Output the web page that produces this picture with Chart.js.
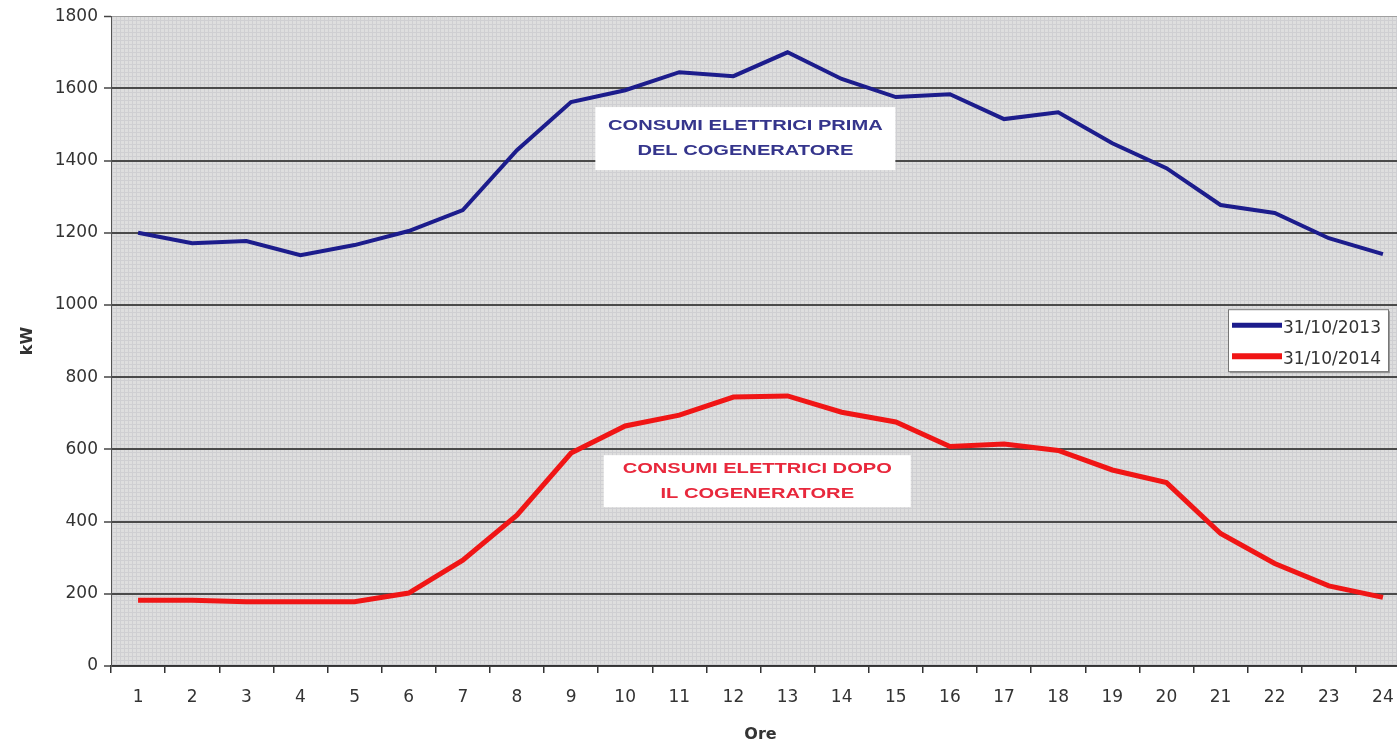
<!DOCTYPE html>
<html lang="it">
<head>
<meta charset="utf-8">
<title>Consumi elettrici</title>
<script src="https://cdn.jsdelivr.net/npm/chart.js@4.4.1/dist/chart.umd.min.js"></script>
<style>
  html, body { margin: 0; padding: 0; background: #fff; overflow: hidden; }
  #wrap { position: relative; width: 1424px; height: 744px; }
</style>
</head>
<body>
<div id="wrap"><canvas id="consumiChart" width="1424" height="744"></canvas></div>
<script>
// -------- Data --------
const hours = ['1', '2', '3', '4', '5', '6', '7', '8', '9', '10', '11', '12',
               '13', '14', '15', '16', '17', '18', '19', '20', '21', '22', '23', '24'];
const kw2013 = [1200, 1171, 1177, 1138, 1166, 1205, 1263, 1429, 1562, 1595, 1645, 1634,
                1700, 1626, 1576, 1584, 1515, 1534, 1448, 1379, 1277, 1255, 1185, 1141];
const kw2014 = [182, 182, 178, 178, 178, 202, 293, 418, 590, 665, 695, 745,
                748, 703, 676, 608, 615, 597, 543, 508, 367, 284, 222, 190];
const kwTicks = [0, 200, 400, 600, 800, 1000, 1200, 1400, 1600, 1800];
const seriesLabels = ['31/10/2013', '31/10/2014'];
const noteLines = [
    ['CONSUMI ELETTRICI PRIMA', 'DEL COGENERATORE'],
    ['CONSUMI ELETTRICI DOPO', 'IL COGENERATORE']
];

const FONT = 'DejaVu Sans';
const BLUE = '#1c1c8c';
const RED = '#f01515';

// -------- Plot background (graph paper look) --------
const plotBackground = {
    id: 'plotBackground',
    beforeDraw(chart) {
        const { ctx, chartArea: a } = chart;
        if (!this.pattern) {
            const tile = document.createElement('canvas');
            tile.width = 4; tile.height = 4;
            const t = tile.getContext('2d');
            t.fillStyle = '#dedede';
            t.fillRect(0, 0, 4, 4);
            t.fillStyle = '#cfcfd2';
            t.fillRect(0, 0, 4, 1);
            t.fillRect(0, 0, 1, 4);
            this.pattern = ctx.createPattern(tile, 'repeat');
        }
        ctx.save();
        ctx.fillStyle = this.pattern;
        ctx.fillRect(a.left, a.top, a.right - a.left, a.bottom - a.top);
        ctx.restore();
    }
};

// -------- Text boxes inside the plot --------
const notes = {
    id: 'notes',
    beforeDatasetsDraw(chart, args, opts) {
        const { ctx, scales: { x, y } } = chart;
        opts.items.forEach((item, i) => {
            const cx = x.getPixelForValue(item.at[0]);
            const cy = y.getPixelForValue(item.at[1]);
            ctx.save();
            ctx.fillStyle = '#ffffff';
            ctx.fillRect(cx - item.w / 2, cy - item.h / 2, item.w, item.h);
            ctx.fillStyle = item.color;
            ctx.font = 'bold 15px "Liberation Sans", Arial, sans-serif';
            ctx.textAlign = 'center';
            ctx.textBaseline = 'middle';
            noteLines[i].forEach((line, k) => {
                ctx.save();
                ctx.translate(cx, cy + (k - 0.5) * item.gap);
                ctx.scale(1.34, 1);
                ctx.fillText(line, 0, 0);
                ctx.restore();
            });
            ctx.restore();
        });
    }
};

// -------- Legend box --------
const boxLegend = {
    id: 'boxLegend',
    afterDraw(chart) {
        const { ctx, chartArea: a } = chart;
        const left = a.right - 182, top = a.top + 293, w = 160, h = 62;
        ctx.save();
        ctx.fillStyle = '#9a9a9a';
        ctx.fillRect(left + 2, top + 2, w, h);
        ctx.fillStyle = '#ffffff';
        ctx.fillRect(left, top, w, h);
        ctx.strokeStyle = '#777';
        ctx.lineWidth = 1;
        ctx.strokeRect(left + 0.5, top + 0.5, w, h);
        ctx.font = '17px "' + FONT + '"';
        ctx.textBaseline = 'middle';
        chart.data.datasets.forEach((ds, i) => {
            const ly = top + 16 + i * 31;
            ctx.strokeStyle = ds.borderColor;
            ctx.lineWidth = i === 0 ? 5 : 6;
            ctx.beginPath();
            ctx.moveTo(left + 4, ly);
            ctx.lineTo(left + 54, ly);
            ctx.stroke();
            ctx.fillStyle = '#333';
            ctx.fillText(ds.label, left + 55, ly + 3);
        });
        ctx.restore();
    }
};

// -------- Chart --------
const consumiCanvas = document.getElementById('consumiChart');
const consumiChart = new Chart(consumiCanvas, {
    type: 'line',
    data: {
        labels: hours,
        datasets: [{
            label: seriesLabels[0],
            data: kw2013,
            borderColor: BLUE,
            borderWidth: 4,
            pointRadius: 0,
            tension: 0,
            fill: false
        }, {
            label: seriesLabels[1],
            data: kw2014,
            borderColor: RED,
            borderWidth: 5,
            pointRadius: 0,
            tension: 0,
            fill: false
        }]
    },
    options: {
        responsive: false,
        animation: false,
        layout: { padding: { top: 16, right: 14, left: 0, bottom: 0 } },
        plugins: {
            legend: { display: false },
            tooltip: { enabled: false },
            notes: {
                items: [
                    { at: [11.22, 1461], w: 300, h: 63, gap: 25, color: '#35358c' },
                    { at: [11.44, 512], w: 307, h: 52, gap: 25, color: '#e8283c' }
                ]
            }
        },
        scales: {
            x: {
                offset: true,
                grid: {
                    display: true,
                    offset: true,
                    drawOnChartArea: false,
                    drawTicks: true,
                    tickLength: 7,
                    color: '#333',
                    lineWidth: 1.5
                },
                border: { color: '#333', width: 1.5 },
                ticks: {
                    color: '#333',
                    font: { family: FONT, size: 17 },
                    padding: 14,
                    maxRotation: 0,
                    autoSkip: false
                },
                title: {
                    display: true,
                    text: 'Ore',
                    color: '#333',
                    font: { family: FONT, size: 16, weight: 'bold' },
                    padding: { top: 0, bottom: 0 }
                },
                afterFit: scale => { scale.height = 78; }
            },
            y: {
                min: 0,
                max: 1800,
                afterBuildTicks: scale => { scale.ticks = kwTicks.map(v => ({ value: v })); },
                grid: {
                    color: c => (c.tick && c.tick.value === 1800 ? '#a0a0a0' : '#4a4a4a'),
                    lineWidth: c => (c.tick && c.tick.value === 1800 ? 1 : 2),
                    tickColor: '#444',
                    tickWidth: 1.5,
                    tickLength: 7
                },
                border: { color: '#555', width: 1 },
                ticks: {
                    color: '#333',
                    font: { family: FONT, size: 17 },
                    padding: 6,
                    callback: value => String(value)
                },
                title: {
                    display: true,
                    text: 'kW',
                    color: '#333',
                    font: { family: FONT, size: 16, weight: 'bold' },
                    padding: { top: 18, bottom: 0 }
                },
                afterFit: scale => { scale.width = 111; }
            }
        }
    },
    plugins: [plotBackground, notes, boxLegend]
});
</script>
</body>
</html>
